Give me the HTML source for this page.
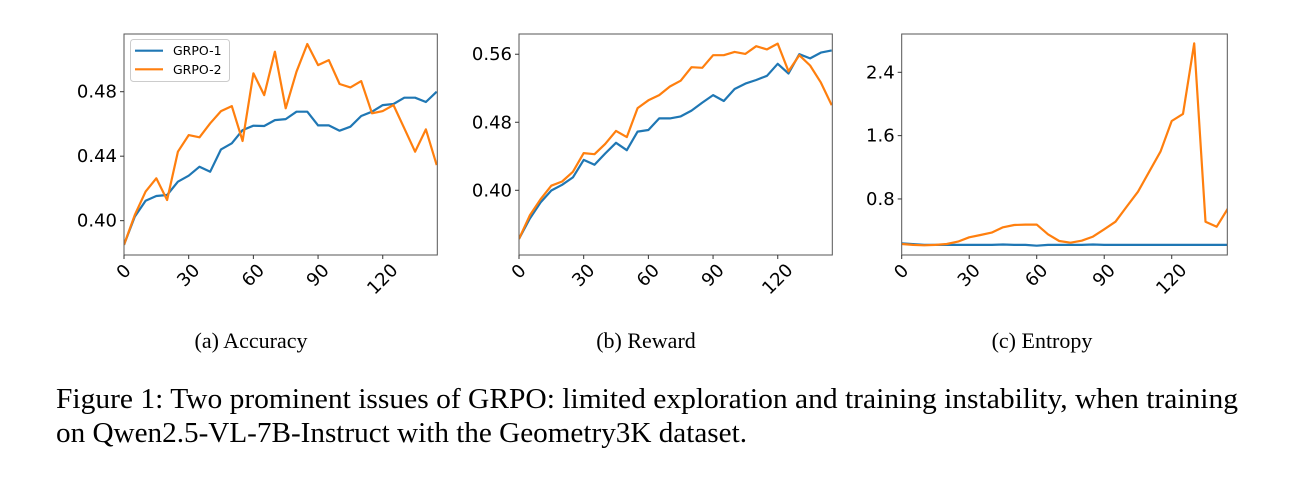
<!DOCTYPE html>
<html><head><meta charset="utf-8"><style>
html,body{margin:0;padding:0;background:#fff;}
svg{display:block;}
</style></head><body>
<svg id="fig" width="1295" height="483" viewBox="0 0 1295 483" xmlns="http://www.w3.org/2000/svg">
<text x="251" y="348" text-anchor="middle" font-family="Liberation Serif, serif" font-size="22">(a) Accuracy</text>
<text x="646" y="348" text-anchor="middle" font-family="Liberation Serif, serif" font-size="22">(b) Reward</text>
<text x="1042" y="348" text-anchor="middle" font-family="Liberation Serif, serif" font-size="22">(c) Entropy</text>
<text x="56" y="408" font-family="Liberation Serif, serif" font-size="28" textLength="1182" lengthAdjust="spacingAndGlyphs">Figure 1: Two prominent issues of GRPO: limited exploration and training instability, when training</text>
<text x="56" y="442" font-family="Liberation Serif, serif" font-size="28" textLength="691" lengthAdjust="spacingAndGlyphs">on Qwen2.5-VL-7B-Instruct with the Geometry3K dataset.</text>
</svg>
<script>
const steps = [0,5,10,15,20,25,30,35,40,45,50,55,60,65,70,75,80,85,90,95,100,105,110,115,120,125,130,135,140,145];
const xTicks = [0,30,60,90,120];
const accBlue = [0.385,0.4025,0.4124,0.4153,0.4159,0.4242,0.4279,0.4335,0.4304,0.4442,0.448,0.4562,0.4589,0.4587,0.4624,0.463,0.4676,0.4676,0.4591,0.4591,0.4558,0.4583,0.4649,0.4676,0.4717,0.4724,0.4763,0.4763,0.4736,0.48];
const accOrange = [0.385,0.4035,0.418,0.4263,0.4128,0.4428,0.4531,0.4517,0.4604,0.468,0.4711,0.4494,0.4914,0.4779,0.5048,0.4697,0.4924,0.5096,0.4965,0.4996,0.4848,0.4827,0.4866,0.4666,0.468,0.4717,0.4573,0.4428,0.4566,0.4345];
const accTicks = [0.40,0.44,0.48];
const rewBlue = [0.3428,0.3667,0.3857,0.3997,0.4065,0.4152,0.4357,0.43,0.4433,0.4558,0.4471,0.469,0.4709,0.4846,0.4846,0.4869,0.4937,0.5031,0.5119,0.505,0.5191,0.5255,0.5297,0.5346,0.5487,0.5373,0.56,0.5551,0.5619,0.5645];
const rewOrange = [0.3428,0.3705,0.3895,0.4054,0.4103,0.4217,0.4437,0.4425,0.4546,0.4698,0.4626,0.4967,0.5058,0.5119,0.5221,0.5289,0.5448,0.5441,0.5589,0.5589,0.5627,0.5604,0.5695,0.5657,0.5725,0.5399,0.5589,0.5467,0.5266,0.5001];
const rewTicks = [0.40,0.48,0.56];
const entBlue = [0.24,0.23,0.22,0.22,0.22,0.22,0.22,0.22,0.22,0.225,0.22,0.22,0.21,0.22,0.22,0.22,0.22,0.225,0.22,0.22,0.22,0.22,0.22,0.22,0.22,0.22,0.22,0.22,0.22,0.22];
const entOrange = [0.231,0.219,0.214,0.219,0.231,0.261,0.316,0.345,0.375,0.442,0.471,0.476,0.476,0.353,0.269,0.248,0.273,0.324,0.417,0.513,0.703,0.892,1.145,1.398,1.785,1.874,2.766,0.513,0.45,0.682];
const entTicks = [0.8,1.6,2.4];
const entTickLabels = ["0.8","1.6","2.4"];

const NS = "http://www.w3.org/2000/svg";
const svg = document.getElementById('fig');
function mk(tag, attrs, parent){const e=document.createElementNS(NS,tag);for(const k in attrs)e.setAttribute(k,attrs[k]);(parent||svg).appendChild(e);return e;}

function chart(cfg){
  const g = mk('g',{});
  
  
  const L=cfg.L,R=cfg.R,T=cfg.T,B=cfg.B;
  const xs = v => L + (v-0)/(cfg.xmax-0)*(R-L);
  const ys = v => B - (v-cfg.ymin)/(cfg.ymax-cfg.ymin)*(B-T);
  const series=[[cfg.blue,'#1f77b4','grpo-1-line'],[cfg.orange,'#ff7f0e','grpo-2-line']];
  const clip = mk('clipPath',{id:'c'+cfg.name},g);
  mk('rect',{x:L,y:T,width:R-L,height:B-T},clip);
  for(const [arr,col,nm] of series){
    const pts = arr.map((v,i)=>xs(steps[i]).toFixed(1)+','+ys(v).toFixed(1)).join(' ');
    const pl = mk('polyline',{points:pts,fill:'none',stroke:col,'stroke-width':2.2,'stroke-linejoin':'round','clip-path':'url(#c'+cfg.name+')'},g);
    
    
  }
  const fr = mk('rect',{x:L,y:T,width:R-L,height:B-T,fill:'none',stroke:'#555','stroke-width':1},g);
  
  
  xTicks.forEach(t=>{
    const x=xs(t);
    mk('line',{x1:x,x2:x,y1:B,y2:B+4,stroke:'#333','stroke-width':1},g);
    const s=String(t);
    const w=s.length*10.8;
    const cy=262+(w+17)*0.707/2;
    const tx = mk('text',{x:0,y:0,'text-anchor':'middle','dominant-baseline':'central','font-family':'DejaVu Sans, sans-serif','font-size':18,transform:'translate('+x+','+cy+') rotate(-45)'},g);
    tx.textContent=s;
    
    
  });
  cfg.yticks.forEach((t,i)=>{
    const y=ys(t);
    mk('line',{x1:L-4,x2:L,y1:y,y2:y,stroke:'#333','stroke-width':1},g);
    const tx = mk('text',{x:L-7,y:y+6,'text-anchor':'end','font-family':'DejaVu Sans, sans-serif','font-size':18},g);
    tx.textContent = cfg.ylabels ? cfg.ylabels[i] : t.toFixed(2);
    
    
  });
  return g;
}
chart({name:'accuracy-chart',L:124,R:437.3,T:34,B:255,xmax:145.3,ymin:0.3787,ymax:0.5158,blue:accBlue,orange:accOrange,yticks:accTicks});
chart({name:'reward-chart',L:519,R:832.3,T:34,B:255,xmax:145.3,ymin:0.3239,ymax:0.5838,blue:rewBlue,orange:rewOrange,yticks:rewTicks});
chart({name:'entropy-chart',L:901.7,R:1227.3,T:34,B:255,xmax:144.7,ymin:0.092,ymax:2.884,blue:entBlue,orange:entOrange,yticks:entTicks,ylabels:entTickLabels});

const lg = mk('g',{});


mk('rect',{x:130.5,y:39.5,width:99,height:42,rx:3,fill:'#fff','fill-opacity':0.85,stroke:'#ccc','stroke-width':1},lg);
[['GRPO-1','#1f77b4',50.7],['GRPO-2','#ff7f0e',69.3]].forEach(([lab,col,y])=>{
  mk('line',{x1:135,x2:163,y1:y,y2:y,stroke:col,'stroke-width':2.2},lg);
  const t = mk('text',{x:173,y:y+4.5,'font-family':'DejaVu Sans, sans-serif','font-size':12.5},lg);
  t.textContent=lab;
  
  
});
</script>
</body></html>
